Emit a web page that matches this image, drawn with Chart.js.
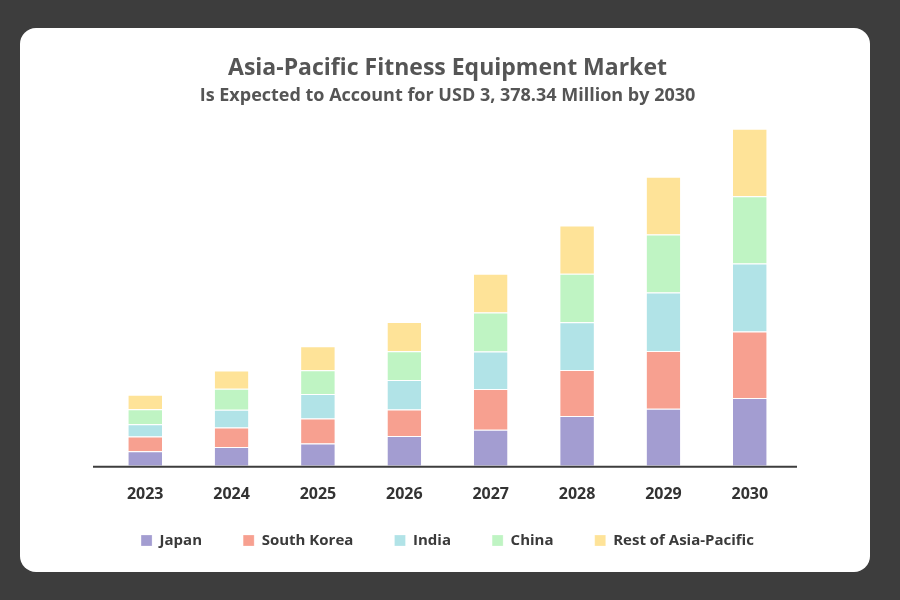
<!DOCTYPE html>
<html>
<head>
<meta charset="utf-8">
<script src="https://cdn.jsdelivr.net/npm/chart.js@4.4.1/dist/chart.umd.min.js"></script>
<style>
  html, body { margin: 0; padding: 0; background: #3d3d3d; }
  body { width: 900px; height: 600px; position: relative; overflow: hidden; }
  .card {
    position: absolute; left: 20px; top: 28px; width: 850px; height: 544px;
    background: #fff; border-radius: 16px; overflow: hidden;
  }
  canvas { display: block; }
</style>
</head>
<body>
<div class="card"><canvas id="mkt" width="850" height="544"></canvas></div>
<script>
// USD million
const years = ['2023', '2024', '2025', '2026', '2027', '2028', '2029', '2030'];
const japan      = [147, 188, 224, 298, 361, 498, 572, 680];
const southKorea = [146, 197, 251, 267, 408, 461, 578, 665];
const india      = [124, 178, 245, 295, 377, 481, 586, 682];
const china      = [150, 208, 237, 287, 391, 484, 582, 675];
const restOfAP   = [146, 184, 241, 295, 388, 484, 578, 676];

const SERIES = [
  { label: 'Japan', data: japan, color: '#a39dd1' },
  { label: 'South Korea', data: southKorea, color: '#f7a090' },
  { label: 'India', data: india, color: '#b1e3e7' },
  { label: 'China', data: china, color: '#bff4c3' },
  { label: 'Rest of Asia-Pacific', data: restOfAP, color: '#fee398' },
];

const FONT = '"Open Sans", Lato, sans-serif';
const GAP = '\u00a0'.repeat(8); // widens legend spacing without adding height

// baseline runs a little past the outer bars
const baseline = {
  id: 'baseline',
  afterDatasetsDraw(c) {
    const { ctx, chartArea } = c;
    const y = c.scales.y.getPixelForValue(0);
    ctx.save();
    ctx.strokeStyle = '#3d3d3d';
    ctx.lineWidth = 2;
    ctx.beginPath();
    ctx.moveTo(chartArea.left - 9, y + 1);
    ctx.lineTo(chartArea.right + 4, y + 1);
    ctx.stroke();
    ctx.restore();
  }
};

new Chart(document.getElementById('mkt'), {
  type: 'bar',
  data: {
    labels: years,
    datasets: SERIES.map(s => ({
      label: s.label,
      data: s.data,
      backgroundColor: s.color,
      borderColor: '#ffffff',
      borderWidth: { top: 1, left: 0, right: 0, bottom: 0 },
      borderSkipped: false,
      categoryPercentage: 1,
      barPercentage: 0.39,
    }))
  },
  options: {
    responsive: false,
    animation: false,
    layout: { padding: { left: 82, right: 77, top: 0, bottom: 14 } },
    plugins: {
      title: {
        display: true,
        text: 'Asia-Pacific Fitness Equipment Market',
        color: '#555555',
        font: { family: FONT, size: 23, weight: 'bold' },
        padding: { top: 27, bottom: 2 },
      },
      subtitle: {
        display: true,
        text: 'Is Expected to Account for USD 3, 378.34 Million by 2030',
        color: '#555555',
        font: { family: FONT, size: 18, weight: 'bold' },
        padding: { top: 0, bottom: 7 },
      },
      legend: {
        position: 'bottom',
        labels: {
          boxWidth: 11,
          boxHeight: 11,
          padding: 10,
          color: '#3a3a3a',
          font: { family: FONT, size: 15, weight: 'bold' },
          generateLabels: c => Chart.defaults.plugins.legend.labels.generateLabels(c)
            .map((item, i, all) => ({ ...item, text: i < all.length - 1 ? item.text + GAP : item.text })),
        }
      },
      tooltip: { enabled: false },
    },
    scales: {
      x: {
        stacked: true,
        grid: { display: false, drawTicks: false },
        border: { display: false },
        ticks: { color: '#333333', padding: 19, font: { family: FONT, size: 16, weight: 'bold' } },
      },
      y: {
        stacked: true,
        display: false,
        min: 0,
        max: 3534,
      }
    }
  },
  plugins: [baseline]
});
</script>
</body>
</html>
